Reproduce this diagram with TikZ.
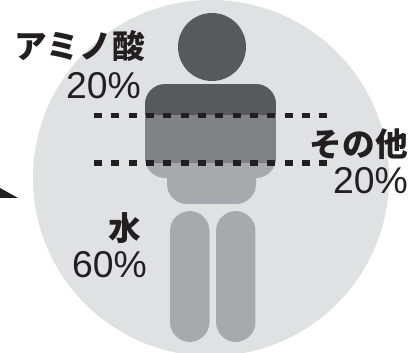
\documentclass[tikz,border=0pt]{standalone}
\usepackage{fontspec}
\setmainfont{Liberation Sans}
\newfontfamily\cjk{Noto Sans CJK JP}
\definecolor{disc}{HTML}{E0E1E3}
\definecolor{bodydark}{HTML}{58595B}
\definecolor{bodymid}{HTML}{808285}
\definecolor{bodylight}{HTML}{A7A9AC}
\definecolor{ink}{HTML}{231F20}
\tikzset{
  pct/.style={text=ink,inner sep=0pt,font=\fontsize{28}{28}\selectfont},
  jp/.style={text=ink,inner sep=0pt,font=\cjk\bfseries\fontsize{24.5}{25}\selectfont},
  levelline/.style={draw=ink,line width=3.9pt,dash pattern=on 6pt off 7pt}
}
\begin{document}
\begin{tikzpicture}[x=0.75pt,y=-0.75pt]
    \useasboundingbox (0,0) rectangle (419,353);

    % Disque
    \begin{scope}
        \clip (0,0) rectangle (419,353);
        \fill[disc] (211,178) circle (178);
    \end{scope}

    % Tete
    \fill[bodydark] (212,47) circle (34);

    % Tronc
    \fill[bodylight,rounded corners=15] (167,150) rectangle (256,204);
    \begin{scope}
        \clip[rounded corners=15] (145,84) rectangle (276,178);
        \fill[bodydark] (145,84) rectangle (276,115);
        \fill[bodymid] (145,115) rectangle (276,163);
        \fill[bodylight] (145,163) rectangle (276,178);
    \end{scope}

    % Jambes
    \fill[bodylight,rounded corners=15] (170,211) rectangle (209.5,342);
    \fill[bodylight,rounded corners=15] (216,211) rectangle (255.5,342);

    % Niveaux
    \coordinate (A) at (94,115.5);
    \coordinate (B) at (327,115.5);
    \coordinate (C) at (94,163);
    \coordinate (D) at (327,163);
    \draw[levelline] (A) -- (B);
    \draw[levelline] (C) -- (D);

    % Fleche
    \fill[ink] (0,188) -- (18,198) -- (0,198) -- cycle;

    % Textes
    \node[jp,anchor=east] (amino) at (145,46) {アミノ酸};
    \node[pct,anchor=east] (aminopct) at (141,86) {20\%};
    \node[jp,anchor=east] (other) at (408,144) {その他};
    \node[pct,anchor=east] (otherpct) at (408,181) {20\%};
    \node[jp,anchor=east] (water) at (141,228) {水};
    \node[pct,anchor=east] (waterpct) at (147,265) {60\%};
\end{tikzpicture}
\end{document}
